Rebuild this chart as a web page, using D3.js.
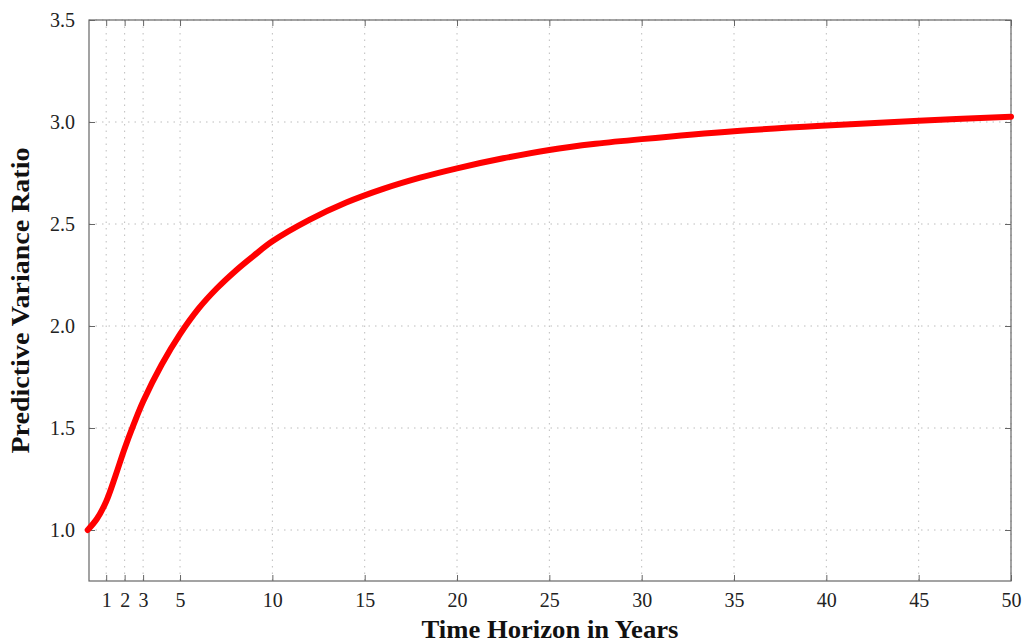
<!DOCTYPE html>
<html>
<head>
<meta charset="utf-8">
<script src="https://cdn.jsdelivr.net/npm/d3@7"></script>
<style>
  body { margin: 0; background: #fff; }
  svg { display: block; }
</style>
</head>
<body>
<div id="chart"></div>
<script>
// horizon in years and the predictive variance ratio
const years = [0, 0.5, 1, 1.5, 2, 2.5, 3, 4, 5, 6, 7, 8, 9, 10, 12, 14, 16, 18, 20, 22.5, 25, 27.5, 30, 35, 40, 45, 50];
const ratio = [1.0, 1.055, 1.14, 1.265, 1.40, 1.52, 1.63, 1.81, 1.96, 2.085, 2.185, 2.27, 2.345, 2.415, 2.52, 2.605, 2.672, 2.727, 2.773, 2.822, 2.863, 2.893, 2.916, 2.955, 2.983, 3.006, 3.026];

const xTicks = [1, 2, 3, 5, 10, 15, 20, 25, 30, 35, 40, 45, 50];
const yTicks = [1.0, 1.5, 2.0, 2.5, 3.0, 3.5];

const WIDTH = 1023, HEIGHT = 643;
const MARGIN = { top: 20, right: 12, bottom: 62, left: 89 };
const innerWidth = WIDTH - MARGIN.left - MARGIN.right;
const innerHeight = HEIGHT - MARGIN.top - MARGIN.bottom;
const FONT = "'Liberation Serif', 'DejaVu Serif', serif";

const data = years.map((t, i) => ({ t, v: ratio[i] }));

const svg = d3.select("#chart")
  .append("svg")
  .attr("width", WIDTH)
  .attr("height", HEIGHT)
  .append("g")
  .attr("transform", `translate(${MARGIN.left},${MARGIN.top})`);

const x = d3.scaleLinear().domain([0.07, 50]).range([0, innerWidth]);
const y = d3.scaleLinear().domain([0.75, 3.5]).range([innerHeight, 0]);

// dotted grid
svg.append("g")
  .selectAll("line")
  .data(xTicks)
  .join("line")
  .attr("x1", d => x(d)).attr("x2", d => x(d))
  .attr("y1", 0).attr("y2", innerHeight)
  .attr("stroke", "#bdbdbd")
  .attr("stroke-width", 1)
  .attr("stroke-dasharray", "1.5,5");

svg.append("g")
  .selectAll("line")
  .data(yTicks)
  .join("line")
  .attr("x1", 0).attr("x2", innerWidth)
  .attr("y1", d => y(d)).attr("y2", d => y(d))
  .attr("stroke", "#bdbdbd")
  .attr("stroke-width", 1)
  .attr("stroke-dasharray", "1.5,5");

// axes with ticks pointing inward
const styleAxis = (g) => {
  g.select(".domain").remove();
  g.selectAll(".tick line").attr("stroke", "#666");
  g.selectAll(".tick text")
    .style("font-family", FONT)
    .style("font-size", "20px")
    .attr("fill", "#222");
};

// mirrored ticks on top and right, no labels
const bareAxis = (g) => {
  g.select(".domain").remove();
  g.selectAll(".tick text").remove();
  g.selectAll(".tick line").attr("stroke", "#666");
};

svg.append("g")
  .attr("transform", `translate(0,${innerHeight})`)
  .call(d3.axisBottom(x).tickValues(xTicks).tickSizeInner(-6).tickPadding(12).tickFormat(d3.format("d")))
  .call(styleAxis);

svg.append("g")
  .call(d3.axisTop(x).tickValues(xTicks).tickSizeInner(-6))
  .call(bareAxis);

svg.append("g")
  .call(d3.axisLeft(y).tickValues(yTicks).tickSizeInner(-6).tickPadding(14).tickFormat(d3.format(".1f")))
  .call(styleAxis);

svg.append("g")
  .attr("transform", `translate(${innerWidth},0)`)
  .call(d3.axisRight(y).tickValues(yTicks).tickSizeInner(-6))
  .call(bareAxis);

// frame
svg.append("rect")
  .attr("width", innerWidth)
  .attr("height", innerHeight)
  .attr("fill", "none")
  .attr("stroke", "#666")
  .attr("stroke-width", 1.2);

// the curve
const line = d3.line()
  .x(d => x(d.t))
  .y(d => y(d.v))
  .curve(d3.curveCatmullRom.alpha(0.5));

svg.append("path")
  .datum(data)
  .attr("fill", "none")
  .attr("stroke", "#ff0000")
  .attr("stroke-width", 6)
  .attr("stroke-linecap", "round")
  .attr("d", line);

// axis titles
svg.append("text")
  .attr("x", innerWidth / 2)
  .attr("y", innerHeight + 57)
  .attr("text-anchor", "middle")
  .attr("textLength", 257)
  .attr("lengthAdjust", "spacingAndGlyphs")
  .style("font-family", FONT)
  .style("font-weight", "bold")
  .style("font-size", "26px")
  .attr("fill", "#111")
  .text("Time Horizon in Years");

svg.append("text")
  .attr("transform", `translate(${-60},${innerHeight / 2}) rotate(-90)`)
  .attr("text-anchor", "middle")
  .attr("textLength", 306)
  .attr("lengthAdjust", "spacingAndGlyphs")
  .style("font-family", FONT)
  .style("font-weight", "bold")
  .style("font-size", "26px")
  .attr("fill", "#111")
  .text("Predictive Variance Ratio");
</script>
</body>
</html>
